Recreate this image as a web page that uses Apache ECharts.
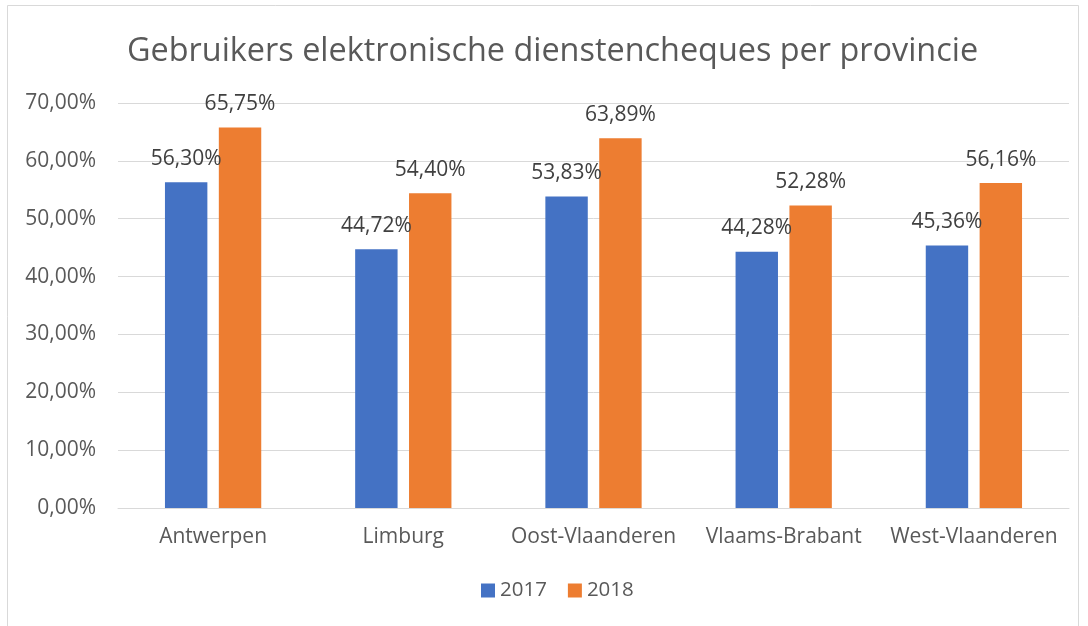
<!DOCTYPE html>
<html>
<head>
<meta charset="utf-8">
<script src="https://cdn.jsdelivr.net/npm/echarts@6/dist/echarts.min.js"></script>
<style>
  html, body { margin: 0; padding: 0; background: #fff; }
  #chart { width: 1088px; height: 626px; }
</style>
</head>
<body>
<div id="chart"></div>
<script>
// data
var provinces = ['Antwerpen', 'Limburg', 'Oost-Vlaanderen', 'Vlaams-Brabant', 'West-Vlaanderen'];
var years = ['2017', '2018'];
var values2017 = [56.30, 44.72, 53.83, 44.28, 45.36];
var values2018 = [65.75, 54.40, 63.89, 52.28, 56.16];
var yTicks = { min: 0, max: 70, interval: 10 };

function pct(v) {
  return v.toFixed(2).replace('.', ',') + '%';
}

var chart = echarts.init(document.getElementById('chart'));
var textColor = '#595959';
var font = '"Open Sans", "DejaVu Sans", sans-serif';

var option = {
  backgroundColor: '#fff',
  textStyle: { fontFamily: font },
  title: {
    text: 'Gebruikers elektronische dienstencheques per provincie',
    left: 122,
    top: 31,
    textStyle: { color: textColor, fontSize: 32.4, fontWeight: 'normal', fontFamily: font }
  },
  // chart frame
  graphic: [{
    type: 'rect',
    shape: { x: 7.5, y: 5.5, width: 1071, height: 640 },
    style: { fill: 'none', stroke: '#d9d9d9', lineWidth: 1 },
    silent: true
  }],
  legend: {
    data: years,
    bottom: 20,
    left: 476,
    itemWidth: 14,
    itemHeight: 14,
    itemGap: 21,
    icon: 'rect',
    textStyle: { color: textColor, fontSize: 20.5, fontFamily: font }
  },
  grid: { left: 118, right: 19, top: 103, bottom: 118 },
  xAxis: {
    type: 'category',
    data: provinces,
    axisLine: { lineStyle: { color: '#d9d9d9', width: 1 } },
    axisTick: { show: false },
    axisLabel: { color: textColor, fontSize: 21, margin: 19, interval: 0, fontFamily: font }
  },
  yAxis: {
    type: 'value',
    min: yTicks.min,
    max: yTicks.max,
    interval: yTicks.interval,
    axisLine: { show: false },
    axisTick: { show: false },
    splitLine: { lineStyle: { color: '#d9d9d9', width: 1 } },
    axisLabel: {
      color: textColor, fontSize: 21, margin: 22, fontFamily: font,
      formatter: function (v) { return pct(v); }
    }
  },
  series: [
    {
      name: years[0],
      type: 'bar',
      data: values2017,
      barWidth: '22.3%',
      barGap: '27%',
      itemStyle: { color: '#4472c4' },
      label: {
        show: true, position: 'top', distance: 13,
        color: '#404040', fontSize: 21, fontFamily: font,
        formatter: function (p) { return pct(p.value); }
      }
    },
    {
      name: years[1],
      type: 'bar',
      data: values2018,
      barWidth: '22.3%',
      itemStyle: { color: '#ed7d31' },
      label: {
        show: true, position: 'top', distance: 13,
        color: '#404040', fontSize: 21, fontFamily: font,
        formatter: function (p) { return pct(p.value); }
      }
    }
  ]
};
chart.setOption(option);
</script>
</body>
</html>
